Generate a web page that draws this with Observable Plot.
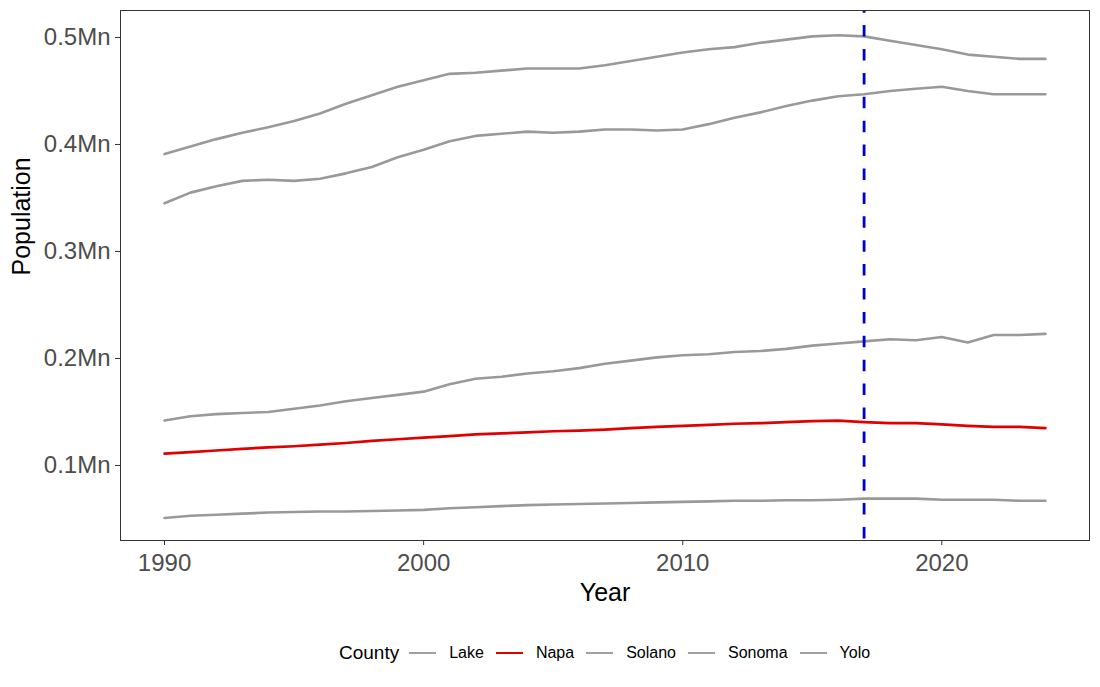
<!DOCTYPE html>
<html>
<head>
<meta charset="utf-8">
<script src="https://cdn.jsdelivr.net/npm/d3@7"></script>
<script src="https://cdn.jsdelivr.net/npm/@observablehq/plot@0.6"></script>
<style>
  html, body { margin: 0; padding: 0; background: #fff; }
  body { width: 1100px; height: 687px; overflow: hidden; font-family: "Liberation Sans", Arial, sans-serif; }
  #legend { position: relative; width: 1100px; height: 62px; }
  #legend .row { position: absolute; left: 339px; top: 17px; height: 22px; display: flex; align-items: center; white-space: nowrap; }
  #legend .title { font-size: 19px; color: #000; margin-right: 10px; }
  #legend .key { width: 27px; margin-right: 13px; }
  #legend .lab { font-size: 16px; color: #000; margin-right: 12px; }
</style>
</head>
<body>
<div id="chart"></div>
<div id="legend"></div>
<script>
const years = [1990,1991,1992,1993,1994,1995,1996,1997,1998,1999,2000,2001,2002,2003,2004,2005,2006,2007,2008,2009,2010,2011,2012,2013,2014,2015,2016,2017,2018,2019,2020,2021,2022,2023,2024];
const counties = ["Lake", "Napa", "Solano", "Sonoma", "Yolo"];
const countyColors = ["#999999", "#E00000", "#999999", "#999999", "#999999"];

const lake   = [51000,53000,54000,55000,56000,56500,57000,57000,57500,58000,58500,60000,61000,62000,63000,63500,64000,64500,65000,65500,66000,66500,67000,67000,67500,67500,68000,69000,69000,69000,68000,68000,68000,67000,67000];
const napa   = [111000,112500,114000,115500,117000,118000,119500,121000,123000,124500,126000,127500,129000,130000,131000,132000,132500,133500,135000,136000,137000,138000,139000,139500,140500,141500,142000,140500,139500,139500,138500,137000,136000,136000,135000];
const solano = [345000,355000,361000,366000,367000,366000,368000,373000,379000,388000,395000,403000,408000,410000,412000,411000,412000,414000,414000,413000,414000,419000,425000,430000,436000,441000,445000,447000,450000,452000,454000,450000,447000,447000,447000];
const sonoma = [391000,398000,405000,411000,416000,422000,429000,438000,446000,454000,460000,466000,467000,469000,471000,471000,471000,474000,478000,482000,486000,489000,491000,495000,498000,501000,502000,501000,497000,493000,489000,484000,482000,480000,480000];
const yolo   = [142000,146000,148000,149000,150000,153000,156000,160000,163000,166000,169000,176000,181000,183000,186000,188000,191000,195000,198000,201000,203000,204000,206000,207000,209000,212000,214000,216000,218000,217000,220000,215000,222000,222000,223000];
const markerYear = [2017];
const xTicks = [1990, 2000, 2010, 2020];
const yTicks = [100000, 200000, 300000, 400000, 500000];

const series = {Lake: lake, Napa: napa, Solano: solano, Sonoma: sonoma, Yolo: yolo};
const rows = [];
for (const c of counties) series[c].forEach((v, i) => rows.push({County: c, Year: years[i], Population: v}));

const font = '"Liberation Sans", Arial, sans-serif';
const chart = Plot.plot({
  width: 1100,
  height: 625,
  marginLeft: 120,
  marginRight: 11,
  marginTop: 10,
  marginBottom: 85,
  style: {fontFamily: font, background: "#fff"},
  x: {domain: [1988.3, 2025.7]},
  y: {domain: [29900, 525200]},
  color: {domain: counties, range: countyColors},
  marks: [
    Plot.line(rows.filter(d => d.County !== "Napa"), {x: "Year", y: "Population", z: "County", stroke: "County", strokeWidth: 2.6, strokeLinejoin: "round"}),
    Plot.line(rows.filter(d => d.County === "Napa"), {x: "Year", y: "Population", z: "County", stroke: "County", strokeWidth: 2.7, strokeLinejoin: "round"}),
    Plot.ruleX(markerYear, {stroke: "#0000CD", strokeWidth: 2.8, strokeDasharray: "11.5,12.4", strokeDashoffset: 8.8}),
    Plot.frame({stroke: "#333333", strokeWidth: 1}),
    Plot.axisX(xTicks, {tickSize: 5, tickPadding: 8, tickFormat: d => String(d), fontSize: 24, fill: "#4D4D4D", stroke: "#333333", label: null}),
    Plot.axisY(yTicks, {tickSize: 5, tickPadding: 5, tickFormat: d => (d / 1e6).toFixed(1) + "Mn", fontSize: 24, fill: "#4D4D4D", stroke: "#333333", label: null}),
    Plot.text(["Year"], {frameAnchor: "bottom", dy: 60, fontSize: 25, fill: "#000"}),
    Plot.text(["Population"], {frameAnchor: "left", dx: -99, rotate: -90, fontSize: 25, fill: "#000"})
  ]
});
document.getElementById("chart").appendChild(chart);

const legend = document.getElementById("legend");
const row = document.createElement("div");
row.className = "row";
const t = document.createElement("span");
t.className = "title";
t.textContent = "County";
row.appendChild(t);
counties.forEach((c, i) => {
  const k = document.createElement("span");
  k.className = "key";
  const isNapa = c === "Napa";
  k.style.height = isNapa ? "1.5px" : "1.2px";
  k.style.background = isNapa ? "#E00000" : "#A0A0A0";
  row.appendChild(k);
  const l = document.createElement("span");
  l.className = "lab";
  l.textContent = c;
  row.appendChild(l);
});
legend.appendChild(row);
</script>
</body>
</html>
